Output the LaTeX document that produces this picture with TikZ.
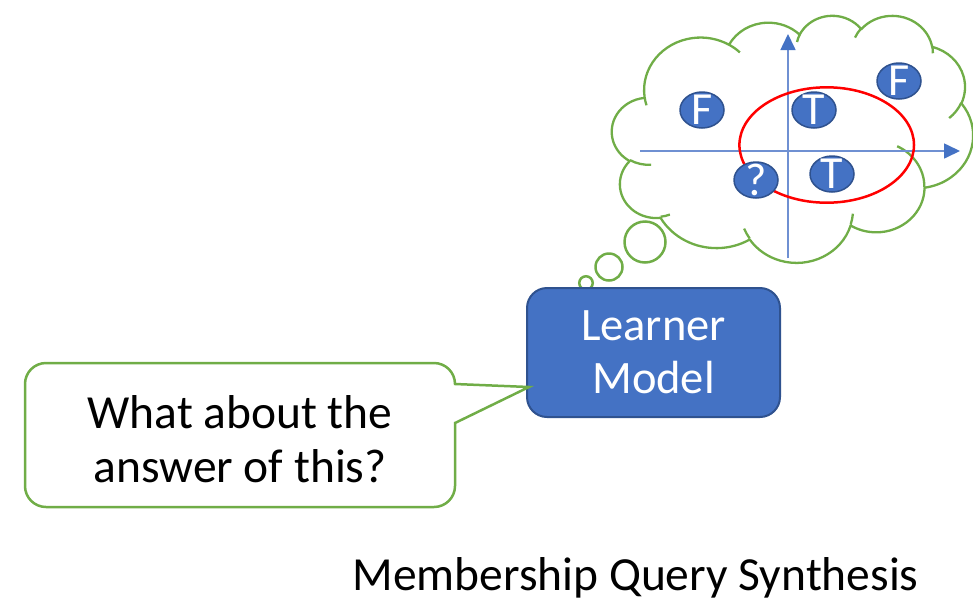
\documentclass[tikz,border=0pt]{standalone}
\usepackage{fontspec}
\setmainfont{Carlito}
\usetikzlibrary{arrows.meta,shapes.geometric}
\definecolor{cgreen}{HTML}{70AD47}
\definecolor{bfill}{HTML}{4472C4}
\definecolor{bdraw}{HTML}{2F528F}
\definecolor{axisblue}{HTML}{6F90D2}
\definecolor{ringred}{HTML}{FF0000}
% DrawingML-style elliptical arc: wR hR stAng swAng (visual angles, degrees)
\newcommand\ooarc[4]{%
  \pgfmathsetmacro\ooA{#3}%
  \pgfmathsetmacro\ooB{#3+#4}%
  \pgfmathsetmacro\ooTA{atan2(#1*sin(\ooA),#2*cos(\ooA))}%
  \pgfmathsetmacro\ooTBr{atan2(#1*sin(\ooB),#2*cos(\ooB))}%
  \pgfmathsetmacro\ooTB{\ooTBr+360*round((\ooTA+#4-\ooTBr)/360)}%
  \pgfpatharc{\ooTA}{\ooTB}{#1pt and #2pt}%
}
\newcommand\oomove[2]{\pgfpathmoveto{\pgfpoint{#1pt}{#2pt}}}
\tikzset{
  bigtext/.style={font=\fontsize{47.5}{54}\selectfont},
  dotnode/.style={ellipse, fill=bfill, draw=bdraw, line width=1.5pt,
    minimum width=44, minimum height=36, inner sep=-10pt, text=white,
    font=\fontsize{46}{50}\selectfont},
  bubble/.style={circle, draw=cgreen, line width=2.5pt, fill=white, inner sep=0pt},
  learnerbox/.style={rectangle, rounded corners=20, fill=bfill, draw=bdraw,
    line width=2pt, minimum width=253, minimum height=129, text=white,
    align=center, font=\fontsize{46.5}{53}\selectfont},
  callout/.style={draw=cgreen, line width=2.5pt, fill=white, line join=miter},
  axis/.style={draw=axisblue, line width=1.6pt,
    -{Triangle[width=15pt,length=16pt,color=bfill]}},
  ring/.style={ellipse, draw=ringred, line width=2.5pt, minimum width=174.6,
    minimum height=115.4, inner sep=0pt},
}
\begin{document}
\begin{tikzpicture}[x=1pt,y=-1pt]
\useasboundingbox (0,0) rectangle (973,600);
% cloud
\begin{scope}[shift={(612,15)},xscale=0.8356,yscale=-0.5718]
  \pgfsetlinewidth{2.3pt}
  \pgfsetstrokecolor{cgreen}
  \pgfsetfillcolor{white}
  \pgfsetroundjoin
  \oomove{39.00}{143.70}
  \ooarc{67.53}{91.90}{-190.48748}{123.78053}
  \ooarc{53.33}{72.67}{-144.10238}{89.94523}
  \ooarc{43.65}{59.45}{-145.80792}{99.72302}
  \ooarc{48.57}{65.95}{-130.98607}{117.24173}
  \ooarc{53.33}{72.73}{-78.70888}{109.02692}
  \ooarc{67.75}{92.20}{-46.27102}{130.269}
  \ooarc{57.85}{78.67}{0.62502}{114.03333}
  \ooarc{67.52}{92.15}{22.4516}{115.17255}
  \ooarc{77.20}{105.43}{66.24263}{75.71102}
  \ooarc{43.60}{59.18}{-274.94208}{146.73557}
  \ooarc{43.45}{59.45}{-246.8285}{152.51885}
  \pgfpathclose
  \pgfusepath{fill,stroke}
  \oomove{46.93}{261.77}\ooarc{43.45}{59.45}{86.742}{26.4295}
  \oomove{69.28}{348.99}\ooarc{43.60}{59.18}{73.61047}{11.44747}
  \oomove{164.78}{390.90}\ooarc{67.52}{92.15}{137.62415}{14.0811}
  \oomove{288.27}{347.51}\ooarc{67.52}{92.15}{6.45327}{15.99835}
  \oomove{341.29}{229.54}\ooarc{57.85}{78.67}{-70.29235}{70.91737}
  \oomove{417.98}{153.54}\ooarc{53.33}{72.73}{30.31803}{27.7515}
  \oomove{383.24}{54.26}\ooarc{48.57}{65.95}{-13.74433}{14.8589}
  \oomove{290.78}{39.52}\ooarc{48.57}{65.95}{-149.18145}{18.19537}
  \oomove{221.41}{47.20}\ooarc{43.65}{59.45}{-163.49427}{17.68635}
  \oomove{140.00}{51.92}\ooarc{67.53}{91.90}{-66.70695}{12.31935}
  \oomove{41.27}{157.89}\ooarc{67.53}{91.90}{157.65435}{11.85817}
  \pgfusepath{stroke}
\end{scope}
% axes
\coordinate (ybot) at (788,258);
\coordinate (ytop) at (788,34);
\coordinate (xl) at (640,151);
\coordinate (xr) at (960,151);
\draw[axis] (ybot) -- (ytop);
\draw[axis] (xl) -- (xr);
% region
\node[ring] (region) at (826.7,145) {};
% samples
\node[dotnode] (f1) at (702,110) {F};
\node[dotnode] (t1) at (814,110) {T};
\node[dotnode] (f2) at (899,81) {F};
\node[dotnode] (qm) at (756,180) {?};
\node[dotnode] (t2) at (832,174) {T};
% thought bubbles
\node[bubble, minimum size=13.5] (b1) at (586,283) {};
\node[bubble, minimum size=27] (b2) at (609,267) {};
\node[bubble, minimum size=41] (b3) at (645,242) {};
% learner
\node[learnerbox] (learner) at (653.5,352.5) {Learner\\Model};
% callout
\coordinate (tip) at (529,387);
\draw[callout] (46,363) -- (434,363) arc[start angle=-90,end angle=0,radius=21]
  -- (tip) -- (455,423) -- (455,486) arc[start angle=0,end angle=90,radius=21]
  -- (46,507) arc[start angle=90,end angle=180,radius=21]
  -- (25,384) arc[start angle=180,end angle=270,radius=21] -- cycle;
\node[bigtext, align=center] (q) at (240,439) {What about the\\answer of this?};
% caption
\node[bigtext, anchor=base] (cap) at (635.5,590) {Membership Query Synthesis};
\end{tikzpicture}
\end{document}
